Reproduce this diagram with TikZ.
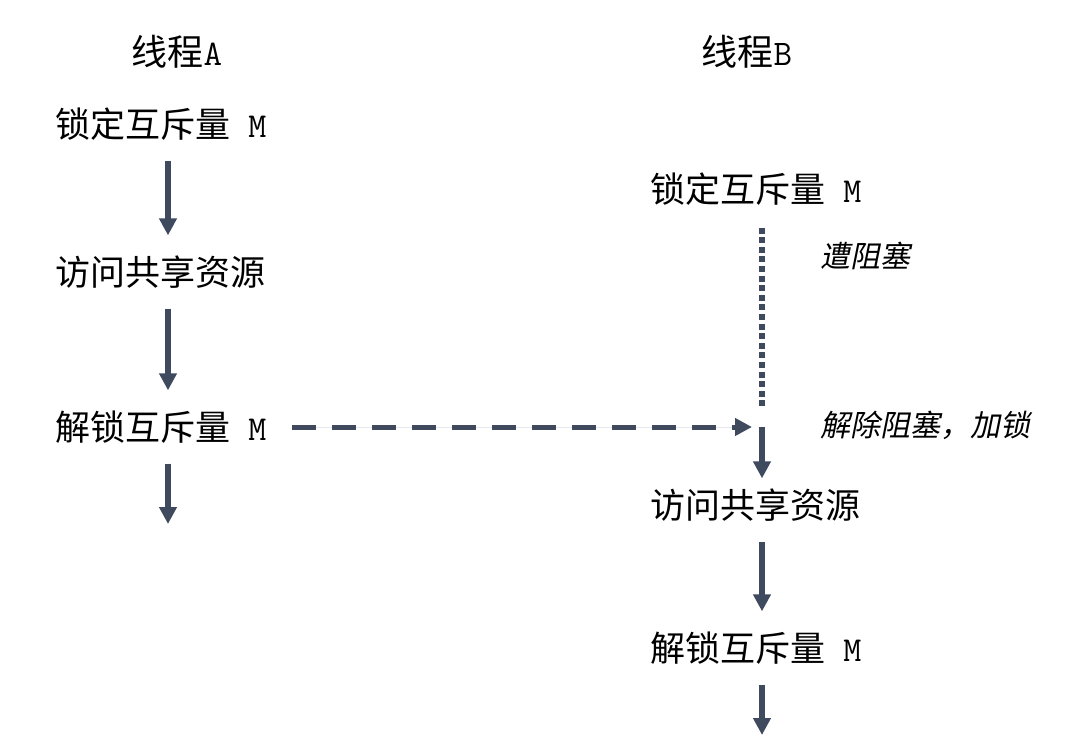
\documentclass[tikz,border=0pt]{standalone}
\usepackage{fontspec}
\setmainfont{Noto Sans CJK SC}
\newfontfamily\cjkslant[FakeSlant=0.2]{Noto Sans CJK SC}
\usetikzlibrary{arrows.meta, positioning, calc}
\definecolor{flowgray}{HTML}{3F4A5E}

\begin{document}
\begin{tikzpicture}[
    x=0.5pt, y=-0.5pt,
    head/.style={inner sep=0pt, font=\fontsize{18}{21}\selectfont},
    txt/.style={anchor=west, inner sep=0pt, font=\fontsize{17.5}{20}\selectfont},
    note/.style={anchor=west, inner sep=0pt, font=\fontsize{15}{18}\selectfont\cjkslant},
    ar/.style={-{Triangle[length=8.5pt,width=8.5pt]}, line width=2.8pt, draw=flowgray,
               fill=flowgray, shorten <=10pt, shorten >=10pt},
    sig/.style={-{Triangle[length=8.5pt,width=8.5pt]}, line width=2.5pt, draw=flowgray,
                fill=flowgray, dash pattern=on 12pt off 8pt},
    wait/.style={line width=2.8pt, draw=flowgray, dash pattern=on 3pt off 1.8pt},
]
\useasboundingbox (0,0) rectangle (1072,755);
\coordinate (colA) at (168,0);
\coordinate (colB) at (762,0);

% thread A
\node[head] (thA) at (177,52) {线程{\ttfamily A}};
\node[txt] (lockA) at (55,124) {锁定互斥量{\ttfamily\ M}};
\node[txt] (useA) at (55,272) {访问共享资源};
\node[txt] (unlockA) at (55,427) {解锁互斥量{\ttfamily\ M}};
\coordinate (endA) at (168,524);

% thread B
\node[head] (thB) at (747,52) {线程{\ttfamily B}};
\node[txt] (lockB) at (650,189) {锁定互斥量{\ttfamily\ M}};
\coordinate (wakeB) at (762,427);
\node[txt] (useB) at (650,505) {访问共享资源};
\node[txt] (unlockB) at (650,648) {解锁互斥量{\ttfamily\ M}};
\coordinate (endB) at (762,735);

\node[note] (blockLbl) at (820,256) {遭阻塞};
\node[note] (wakeLbl) at (820,425) {解除阻塞，加锁};

\draw[ar] (lockA.south -| colA) -- (useA.north -| colA);
\draw[ar] (useA.south -| colA) -- (unlockA.north -| colA);
\draw[ar, shorten >=0pt] (unlockA.south -| colA) -- (endA);

% B waits until A unlocks
\draw[wait, shorten <=11pt, shorten >=8.5pt] (lockB.south -| colB) -- (wakeB);
\draw[sig, shorten <=12.5pt, shorten >=5pt] (unlockA.east) -- (wakeB);
\draw[ar, shorten <=0pt, shorten >=5pt] (wakeB) -- (useB.north -| colB);
\draw[ar] (useB.south -| colB) -- (unlockB.north -| colB);
\draw[ar, shorten >=0pt] (unlockB.south -| colB) -- (endB);
\end{tikzpicture}
\end{document}
